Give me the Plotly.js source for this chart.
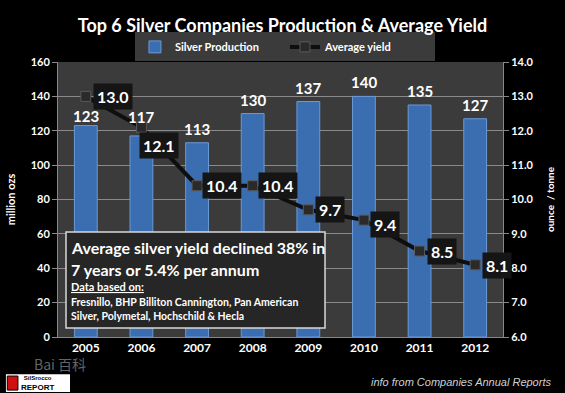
<!DOCTYPE html>
<html><head><meta charset="utf-8">
<script src="https://cdn.plot.ly/plotly-3.0.1.min.js"></script>
<style>html,body{margin:0;padding:0;background:#000;}#chart{width:565px;height:393px;}</style>
</head><body><div id="chart"></div>
<script>
const years = ['2005','2006','2007','2008','2009','2010','2011','2012'];
const production = [123, 117, 113, 130, 137, 140, 135, 127];
const yieldVals = [13.0, 12.1, 10.4, 10.4, 9.7, 9.4, 8.5, 8.1];
const leftTicks = [0, 20, 40, 60, 80, 100, 120, 140, 160];
const rightTicks = [6, 7, 8, 9, 10, 11, 12, 13, 14];

const bars = {
  type: 'bar', name: 'Silver Production', x: years, y: production,
  marker: {color: '#3b6db1', line: {color: '#6a9ad6', width: 1}},
  width: 0.41,
  hoverinfo: 'none'
};
const line = {
  type: 'scatter', mode: 'lines+markers', name: 'Average yield', x: years, y: yieldVals, yaxis: 'y2',
  line: {color: '#0e0e0e', width: 4},
  marker: {symbol: 'square', size: 10, color: '#2a2a2a', line: {color: '#5a5a5a', width: 1}},
  hoverinfo: 'none'
};

const barShiftY = [10, 19, 14, 14, 14, 14, 14, 14];
const annotations = production.map((v, i) => ({
  x: i, y: v, xref: 'x', yref: 'y', text: '<b>' + v + '</b>',
  showarrow: false, yshift: barShiftY[i], yanchor: 'middle',
  font: {color: '#ffffff', size: 15, family: 'Lato'}
}));

const shiftX = [27, 18, 25, 25, 22, 21, 22, 22];
const shiftY = [0, -18, 0, 0, 0, -4, 0, -1];
yieldVals.forEach((v, i) => annotations.push({
  x: i, y: v, xref: 'x', yref: 'y2', text: '<b>' + v.toFixed(1) + '</b>',
  showarrow: false, xshift: shiftX[i], yshift: shiftY[i],
  font: {color: '#ffffff', size: 16, family: 'Lato'},
  bgcolor: '#151515', borderpad: 3
}));

const boxLines = [
  {t: '<b>Average silver yield declined 38% in</b>', y: 0.325, s: 16},
  {t: '<b>7 years or 5.4% per annum</b>', y: 0.247, s: 16},
  {t: '<b><u>Data based on:</u></b>', y: 0.185, s: 11},
  {t: '<b>Fresnillo, BHP Billiton Cannington, Pan American</b>', y: 0.127, s: 10.5},
  {t: '<b>Silver, Polymetal, Hochschild &amp; Hecla</b>', y: 0.076, s: 10.5}
];
boxLines.forEach(l => annotations.push({
  xref: 'paper', yref: 'paper', x: 0.025, y: l.y, xanchor: 'left', yanchor: 'middle',
  text: l.t, showarrow: false, font: {color: '#ffffff', size: l.s, family: 'Lato'}
}));

annotations.push({
  xref: 'paper', yref: 'paper', x: 1.112, y: -0.165, xanchor: 'right', yanchor: 'middle',
  text: '<i>info from Companies Annual Reports</i>', showarrow: false,
  font: {color: '#d0d0d0', size: 11, family: 'Liberation Sans'}
});
annotations.push({
  xref: 'paper', yref: 'paper', x: 0.005, y: -0.098, xanchor: 'center', yanchor: 'middle',
  text: 'Bai 百科', showarrow: false,
  font: {color: 'rgba(200,200,200,0.5)', size: 14, family: 'Noto Sans CJK SC'}
});
annotations.push({
  xref: 'paper', yref: 'paper', x: -0.047, y: -0.168, xanchor: 'center', yanchor: 'middle',
  text: '<b><span style="font-size:6px">SilSrocco</span><br>REPORT</b>', showarrow: false,
  font: {color: '#000000', size: 8, family: 'Liberation Sans'}
});

const layout = {
  width: 565, height: 393,
  margin: {l: 58, r: 62, t: 62, b: 56},
  paper_bgcolor: '#000000', plot_bgcolor: '#3b3b3b',
  title: {text: '<b>Top 6 Silver Companies Production &amp; Average Yield</b>', x: 0.5, xanchor: 'center', y: 0.935, yanchor: 'middle',
    font: {color: '#ffffff', size: 18, family: 'Lato'}},
  showlegend: true,
  legend: {orientation: 'h', x: 0.51, xanchor: 'center', y: 1.055, yanchor: 'middle',
    bgcolor: '#3b3b3b', font: {color: '#ffffff', size: 11, family: 'Lato', weight: 'bold'},
    itemwidth: 30, entrywidth: 105, traceorder: 'normal'},
  xaxis: {type: 'category', range: [-0.5, 7.5], autorange: false,
    tickfont: {color: '#ffffff', size: 12, family: 'Lato', weight: 'bold'},
    showgrid: false, showline: true, linecolor: '#888', ticks: '', ticklen: 0, fixedrange: true},
  yaxis: {range: [0, 160], tickvals: leftTicks, ticktext: leftTicks.map(String),
    tickfont: {color: '#ffffff', size: 11, family: 'Lato', weight: 'bold'},
    gridcolor: '#8a8a8a', gridwidth: 1, zeroline: false, showline: true, linecolor: '#888',
    ticks: 'outside', ticklen: 5, tickcolor: '#888',
    title: {text: '<b>million ozs</b>', font: {color: '#ffffff', size: 11, family: 'Lato'}, standoff: 12}},
  yaxis2: {range: [6, 14], tickvals: rightTicks, ticktext: rightTicks.map(v => v.toFixed(1)),
    overlaying: 'y', side: 'right', showgrid: false, zeroline: false, showline: true, linecolor: '#888',
    ticks: 'outside', ticklen: 5, tickcolor: '#888',
    tickfont: {color: '#ffffff', size: 11, family: 'Lato', weight: 'bold'},
    title: {text: '<b>ounce  / tonne</b>', font: {color: '#ffffff', size: 10, family: 'Lato'}, standoff: 14}},
  shapes: [
    {type: 'rect', xref: 'paper', yref: 'paper', x0: 0.018, x1: 0.60, y0: 0.033, y1: 0.382,
      fillcolor: '#262626', line: {color: '#d8d8d8', width: 1.5}, layer: 'above'},
    {type: 'rect', xref: 'paper', yref: 'paper', x0: -0.117, x1: 0.027, y0: -0.135, y1: -0.2,
      fillcolor: '#ffffff', line: {color: '#ffffff', width: 0}, layer: 'above'},
    {type: 'rect', xref: 'paper', yref: 'paper', x0: -0.114, x1: -0.09, y0: -0.142, y1: -0.193,
      fillcolor: '#d01010', line: {color: '#000', width: 1}, layer: 'above'}
  ],
  annotations: annotations
};
Plotly.newPlot('chart', [bars, line], layout, {displayModeBar: false, staticPlot: true});
</script></body></html>
